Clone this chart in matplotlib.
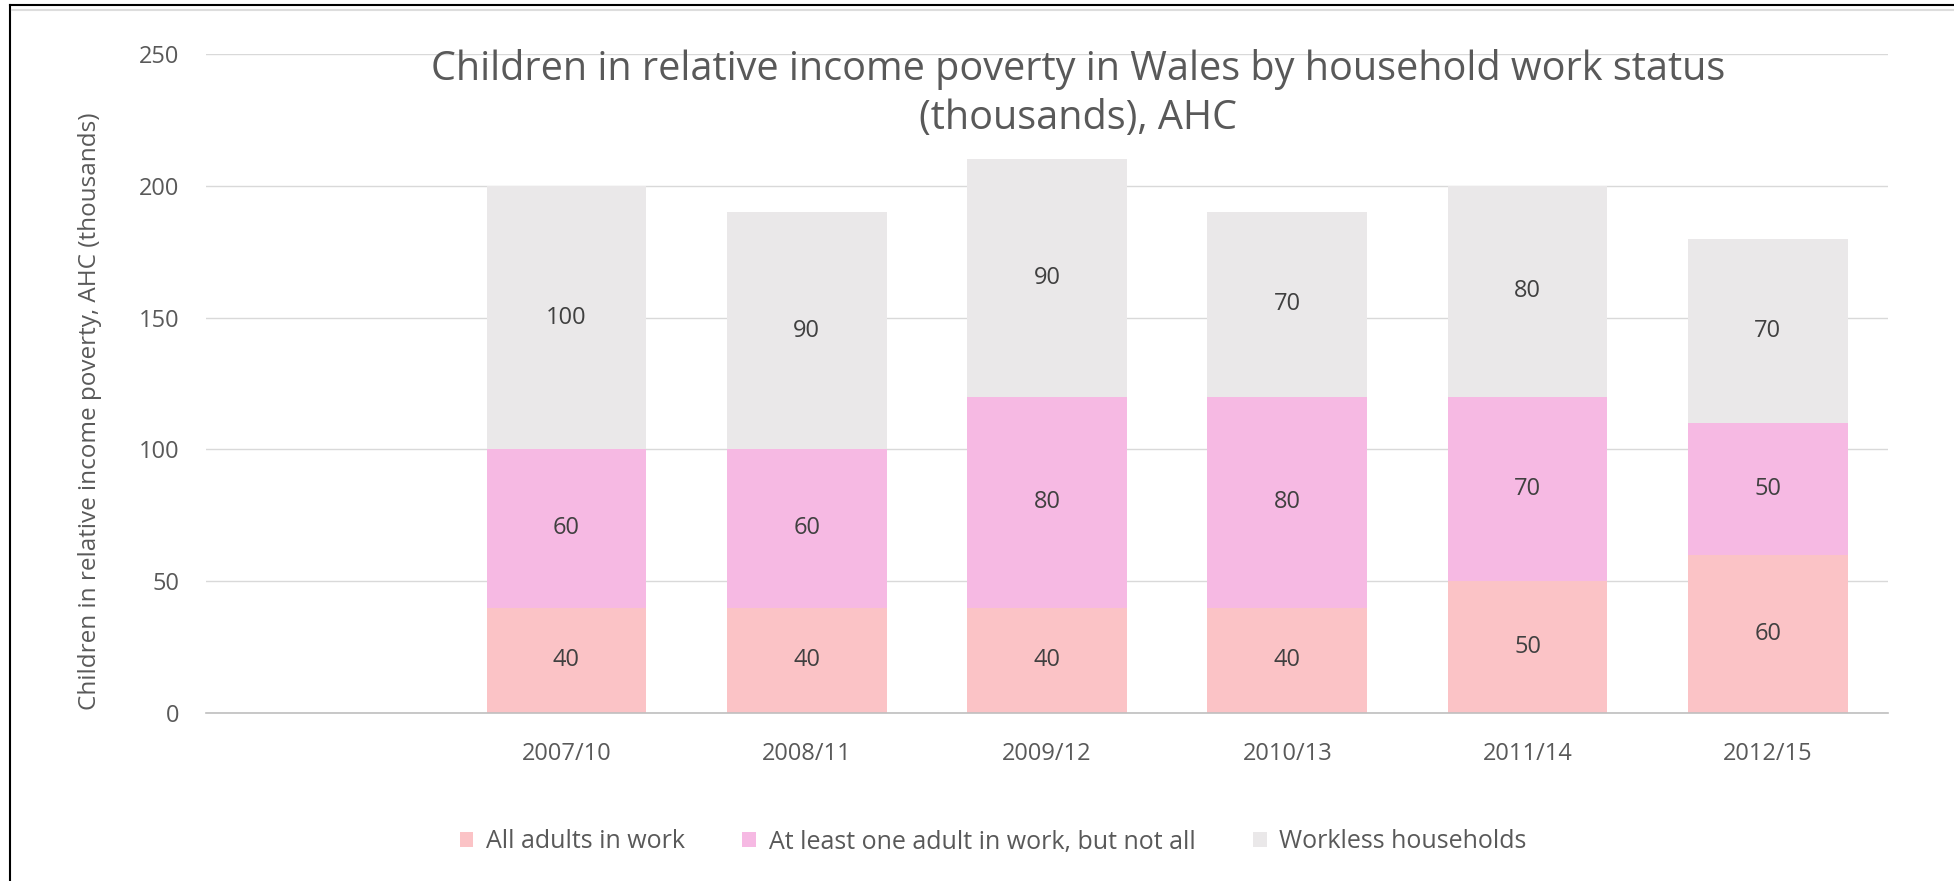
import matplotlib
matplotlib.use("Agg")
import matplotlib.pyplot as plt
from matplotlib.lines import Line2D
from matplotlib.patches import Patch

categories = ["", "2007/10", "2008/11", "2009/12", "2010/13", "2011/14", "2012/15"]
all_adults = [0, 40, 40, 40, 40, 50, 60]
some_adults = [0, 60, 60, 80, 80, 70, 50]
workless = [0, 100, 90, 90, 70, 80, 70]
series_names = ["All adults in work", "At least one adult in work, but not all", "Workless households"]
colors = ["#FBC3C6", "#F6B9E3", "#EAE8E9"]

plt.rcParams['font.family'] = ['Open Sans', 'DejaVu Sans']
W, H = 1954, 881
fig = plt.figure(figsize=(W / 100, H / 100), dpi=100)
ax = fig.add_axes([206 / W, 1 - 713 / H, (1888 - 206) / W, (713 - 54) / H])

x = list(range(len(categories)))
bw = 0.665
present = [i for i in x if categories[i]]
bottoms = [0] * len(x)
for vals, c, name in zip([all_adults, some_adults, workless], colors, series_names):
    xs = [i for i in present]
    vs = [vals[i] for i in present]
    bs = [bottoms[i] for i in present]
    ax.bar(xs, vs, bottom=bs, width=bw, color=c, zorder=2, label=name)
    for i, v, b in zip(xs, vs, bs):
        ax.text(i, b + v / 2, f"{v}", ha="center", va="center", fontsize=17, color="#404040", zorder=3)
    bottoms = [bottoms[i] + vals[i] for i in x]

ax.set_xlim(-0.5, len(x) - 0.5)
ax.set_ylim(0, 250)
ax.set_yticks([0, 50, 100, 150, 200, 250])
ax.set_xticks(x)
ax.set_xticklabels(categories)
ax.tick_params(axis="both", length=0, labelsize=17, colors="#595959")
ax.tick_params(axis="y", pad=19)
ax.tick_params(axis="x", pad=21)
ax.grid(axis="y", color="#D9D9D9", linewidth=1.0, zorder=0)
ax.set_axisbelow(True)
for s in ["top", "right", "left"]:
    ax.spines[s].set_visible(False)
ax.spines["bottom"].set_color("#BFBFBF")
ax.spines["bottom"].set_linewidth(1.2)

fig.text(90 / W, 1 - 411 / H, "Children in relative income poverty, AHC (thousands)",
         rotation=90, ha="center", va="center", fontsize=17.5, color="#595959")
fig.text(1078 / W, 1 - 94 / H, "Children in relative income poverty in Wales by household work status\n(thousands), AHC",
         ha="center", va="center", fontsize=28.5, color="#595959", linespacing=1.3)

handles = [Patch(facecolor=c, edgecolor="none") for c in colors]
fig.legend(handles, series_names, loc="center", bbox_to_anchor=(993 / W, 1 - 842 / H),
           ncol=3, frameon=False, fontsize=18, labelcolor="#595959",
           handlelength=0.55, handleheight=0.55, handletextpad=0.5, columnspacing=2.3)

# outer frame (left and top edges)
fig.add_artist(Line2D([10 / W, 10 / W], [0, 1 - 5 / H], color="black", linewidth=1.5))
fig.add_artist(Line2D([10 / W, 1], [1 - 5 / H, 1 - 5 / H], color="black", linewidth=1.5))
fig.add_artist(Line2D([12 / W, 1], [1 - 10 / H, 1 - 10 / H], color="#DDDDDD", linewidth=1.5))

fig.savefig("out.png", dpi=100, facecolor="white")
